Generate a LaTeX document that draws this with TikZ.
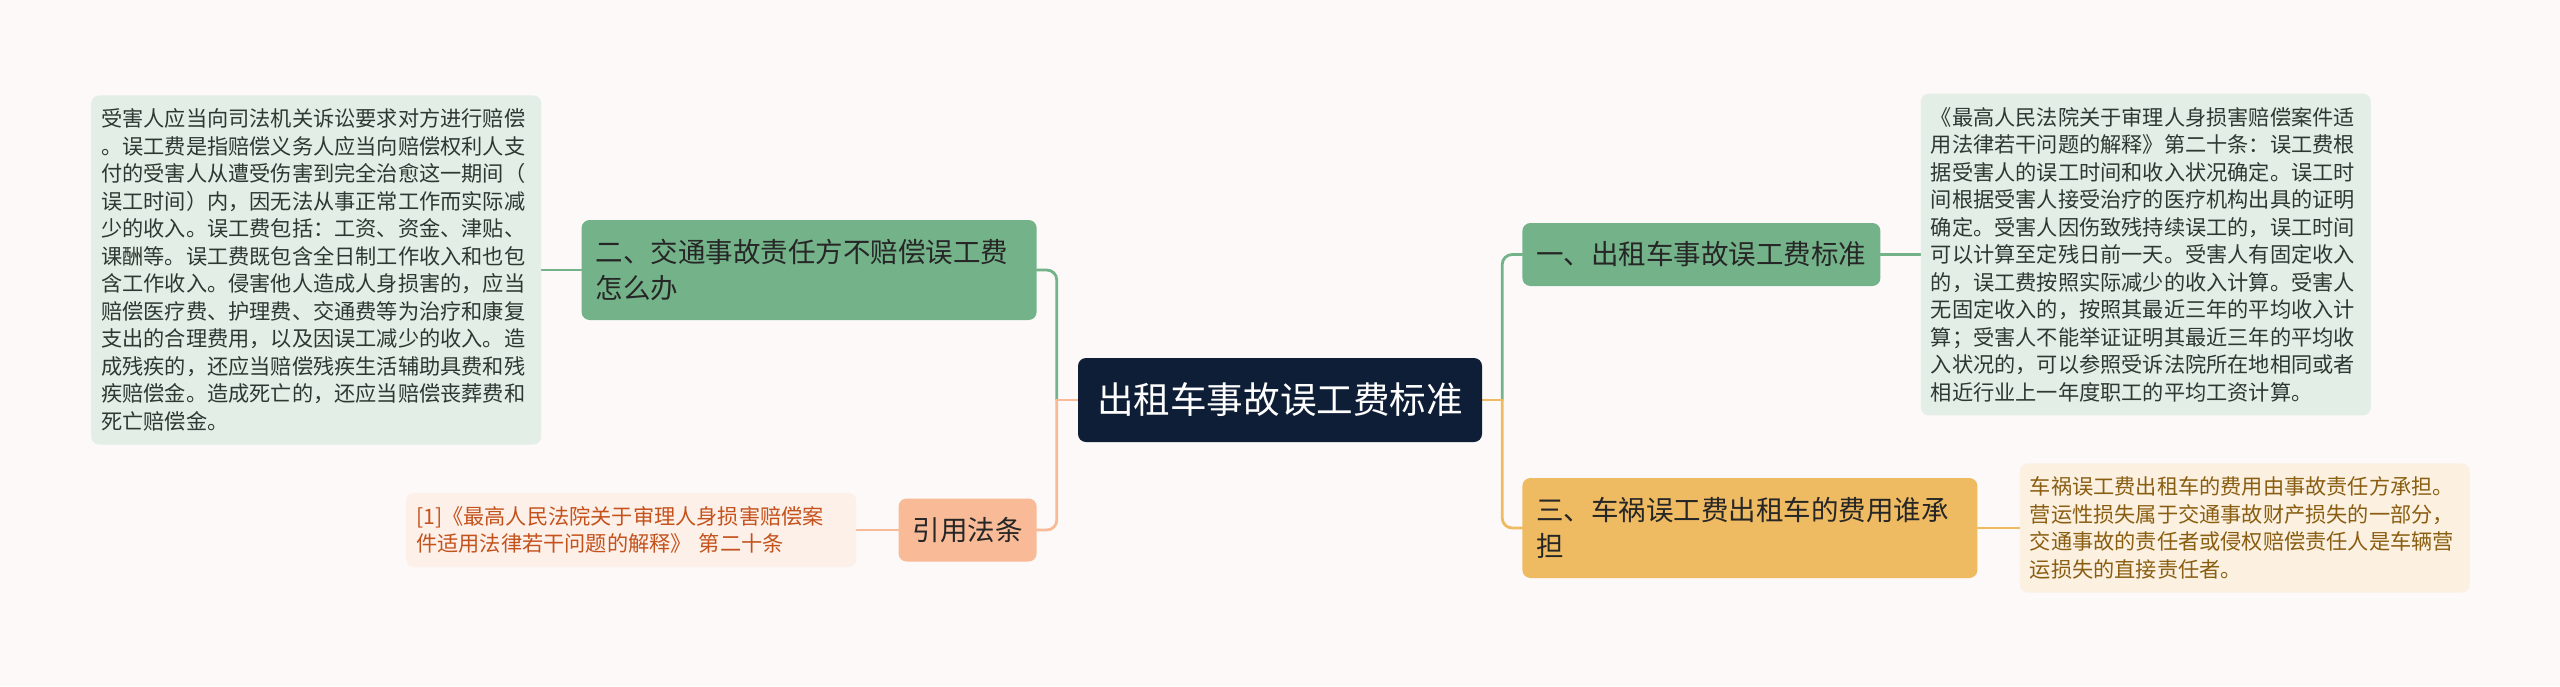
\documentclass[tikz,border=0pt]{standalone}
\usepackage{fontspec}
\setmainfont{Noto Sans CJK SC}
\usepackage{xcolor}
\definecolor{clPage}{HTML}{FCF9F8}
\definecolor{clRoot}{HTML}{0E1E36}
\definecolor{clGreen}{HTML}{74B38A}
\definecolor{clGreenLeaf}{HTML}{E3EFE6}
\definecolor{clSalmon}{HTML}{F8BA97}
\definecolor{clSalmonLeaf}{HTML}{FDF0E8}
\definecolor{clSalmonText}{HTML}{C4521D}
\definecolor{clOrange}{HTML}{EFBB62}
\definecolor{clOrangeLeaf}{HTML}{FCF1E0}
\definecolor{clOrangeText}{HTML}{8A5E12}
\definecolor{clText}{HTML}{2E3832}
\usetikzlibrary{positioning,calc,backgrounds}
\tikzset{
  rootbox/.style={rectangle, rounded corners=8pt, fill=clRoot, text=white,
                  inner xsep=19pt, minimum height=84pt,
                  font=\fontsize{36.6pt}{44pt}\selectfont},
  branch/.style={rectangle, rounded corners=8pt, align=left, inner xsep=14pt,
                 minimum height=63pt, text=black!85,
                 font=\fontsize{27.5pt}{36.5pt}\selectfont},
  twoline/.style={text width=427pt, minimum height=100pt},
  leaf/.style={rectangle, rounded corners=8pt, align=left, text width=430pt,
               inner xsep=10pt, inner ysep=13.5pt, text=clText,
               font=\fontsize{21.2pt}{27.5pt}\selectfont},
  link/.style={line width=2.8pt, line cap=round, rounded corners=10pt},
}

\begin{document}
\begin{tikzpicture}[x=1pt, y=1pt]
  \useasboundingbox (0,0) rectangle (2560,-686);
  % centre
  \node[rootbox] (c) at (1280,-400) {出租车事故误工费标准};
  % left side
  \node[branch, twoline, fill=clGreen, left=41pt of c, yshift=130pt] (b2)
    {二、交通事故责任方不赔偿误工费\\怎么办};
  \node[branch, fill=clSalmon, left=41pt of c, yshift=-130pt] (law) {引用法条};
  \node[leaf, fill=clGreenLeaf, left=40pt of b2] (t2)
    {受害人应当向司法机关诉讼要求对方进行赔偿\\
     。误工费是指赔偿义务人应当向赔偿权利人支\\
     付的受害人从遭受伤害到完全治愈这一期间（\\
     误工时间）内，因无法从事正常工作而实际减\\
     少的收入。误工费包括：工资、资金、津贴、\\
     课酬等。误工费既包含全日制工作收入和也包\\
     含工作收入。侵害他人造成人身损害的，应当\\
     赔偿医疗费、护理费、交通费等为治疗和康复\\
     支出的合理费用，以及因误工减少的收入。造\\
     成残疾的，还应当赔偿残疾生活辅助具费和残\\
     疾赔偿金。造成死亡的，还应当赔偿丧葬费和\\
     死亡赔偿金。};
  \node[leaf, fill=clSalmonLeaf, text=clSalmonText, left=42pt of law] (ref)
    {[1]《最高人民法院关于审理人身损害赔偿案\\
     件适用法律若干问题的解释》 第二十条};
  % right side
  \node[branch, fill=clGreen, right=40pt of c, yshift=145.5pt] (b1)
    {一、出租车事故误工费标准};
  \node[branch, twoline, fill=clOrange, right=40pt of c, yshift=-128pt] (b3)
    {三、车祸误工费出租车的费用谁承\\担};
  \node[leaf, fill=clGreenLeaf, right=40pt of b1] (t1)
    {《最高人民法院关于审理人身损害赔偿案件适\\
     用法律若干问题的解释》第二十条：误工费根\\
     据受害人的误工时间和收入状况确定。误工时\\
     间根据受害人接受治疗的医疗机构出具的证明\\
     确定。受害人因伤致残持续误工的，误工时间\\
     可以计算至定残日前一天。受害人有固定收入\\
     的，误工费按照实际减少的收入计算。受害人\\
     无固定收入的，按照其最近三年的平均收入计\\
     算；受害人不能举证证明其最近三年的平均收\\
     入状况的，可以参照受诉法院所在地相同或者\\
     相近行业上一年度职工的平均工资计算。};
  \node[leaf, fill=clOrangeLeaf, text=clOrangeText, right=42pt of b3] (t3)
    {车祸误工费出租车的费用由事故责任方承担。\\
     营运性损失属于交通事故财产损失的一部分，\\
     交通事故的责任者或侵权赔偿责任人是车辆营\\
     运损失的直接责任者。};
  \coordinate (cl) at ($(c.west)+(-21,0)$);
  \coordinate (cr) at ($(c.east)+(20,0)$);
  \begin{scope}[on background layer]
    \fill[clPage] (0,0) rectangle (2560,-686);
    \draw[link, draw=clGreen] (cl) |- (b2.east);
    \draw[link, draw=clSalmon] (cl) |- (law.east);
    \draw[link, draw=clSalmon] (c.west) -- (cl);
    \draw[link, draw=clGreen] (cr) |- (b1.west);
    \draw[link, draw=clOrange] (cr) |- (b3.west);
    \draw[link, draw=clOrange] (c.east) -- (cr);
    \draw[link, draw=clGreen] (b2.west) -- (t2.east);
    \draw[link, draw=clSalmon] (law.west) -- (ref.east);
    \draw[link, draw=clGreen] (b1.east) -- (t1.west);
    \draw[link, draw=clOrange] (b3.east) -- (t3.west);
  \end{scope}
\end{tikzpicture}
\end{document}
